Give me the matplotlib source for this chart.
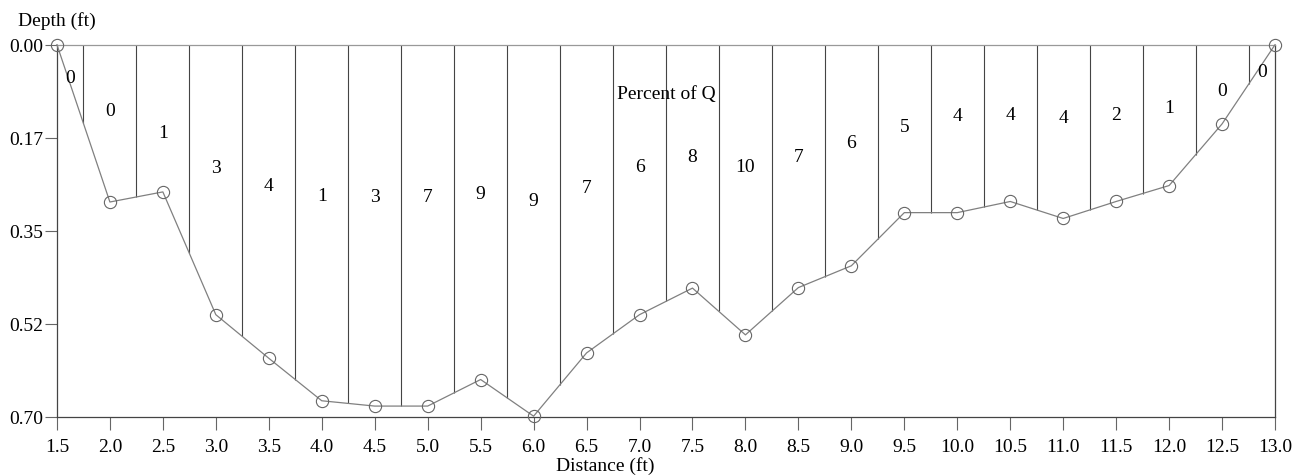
import numpy as np
import matplotlib
matplotlib.use("Agg")
import matplotlib.pyplot as plt
from matplotlib.ticker import FuncFormatter

plt.rcParams['font.family'] = ['Liberation Serif', 'DejaVu Serif']

# Station data
distance = [1.5, 2.0, 2.5, 3.0, 3.5, 4.0, 4.5, 5.0, 5.5, 6.0, 6.5, 7.0,
            7.5, 8.0, 8.5, 9.0, 9.5, 10.0, 10.5, 11.0, 11.5, 12.0, 12.5, 13.0]
depth = [0.00, 0.296, 0.277, 0.508, 0.590, 0.670, 0.680, 0.680, 0.630, 0.699, 0.580, 0.508,
         0.458, 0.546, 0.457, 0.416, 0.316, 0.316, 0.295, 0.327, 0.295, 0.265, 0.149, 0.00]
percent_q = [0, 0, 1, 3, 4, 1, 3, 7, 9, 9, 7, 6, 8, 10, 7, 6, 5, 4, 4, 4, 2, 1, 0, 0]

x = np.array(distance)
d = np.array(depth)

fig = plt.figure(figsize=(13.06, 4.77), dpi=100)
ax = fig.add_axes([0.0436, 0.1243, 0.9327, 0.7799])

# panel boundaries half way between stations
mid_x = (x[:-1] + x[1:]) / 2
mid_d = (d[:-1] + d[1:]) / 2
ax.vlines(mid_x, 0, mid_d, color='#444444', lw=0.8)

ax.plot(x, d, color='#808080', lw=0.9, marker='o', ms=8.8, mfc='none',
        mec='#666666', mew=0.8, clip_on=False, zorder=3)

# percent of Q labels
for i in range(len(x)):
    left = mid_d[i - 1] if i > 0 else 0
    right = mid_d[i] if i < len(mid_d) else 0
    ly = max(0.42 * max(d[i], left, right), 0.05)
    if i == 0:
        lx = (x[0] + mid_x[0]) / 2
    elif i == len(x) - 1:
        lx = (x[-1] + mid_x[-1]) / 2
    else:
        lx = x[i]
    ax.text(lx, ly, str(percent_q[i]), ha='center', va='center', fontsize=14)

ax.text(7.25, 0.092, 'Percent of Q', ha='center', va='center', fontsize=14)

ax.set_xlim(1.5, 13.0)
ax.set_ylim(0.70, 0.0)
ax.set_xticks(np.arange(1.5, 13.01, 0.5))
ax.xaxis.set_major_formatter(FuncFormatter(lambda v, p: '%.1f' % v))
ax.set_yticks(np.linspace(0, 0.7, 5))
ax.yaxis.set_major_formatter(FuncFormatter(lambda v, p: '%.2f' % (np.floor(v * 100 + 1e-6) / 100)))
ax.tick_params(axis='both', labelsize=14, length=9, width=0.8, color='#666666', direction='out')
ax.tick_params(axis='x', pad=6)
ax.tick_params(axis='y', pad=1)

for side in ['left', 'right', 'bottom']:
    ax.spines[side].set_color('#444444')
    ax.spines[side].set_linewidth(0.9)
ax.spines['top'].set_color('#999999')
ax.spines['top'].set_linewidth(0.9)

fig.text(0.4632, 0.022, 'Distance (ft)', fontsize=14, ha='center', va='center')
fig.text(0.0138, 0.955, 'Depth (ft)', fontsize=14, ha='left', va='center')

fig.savefig('out.png', dpi=100)
